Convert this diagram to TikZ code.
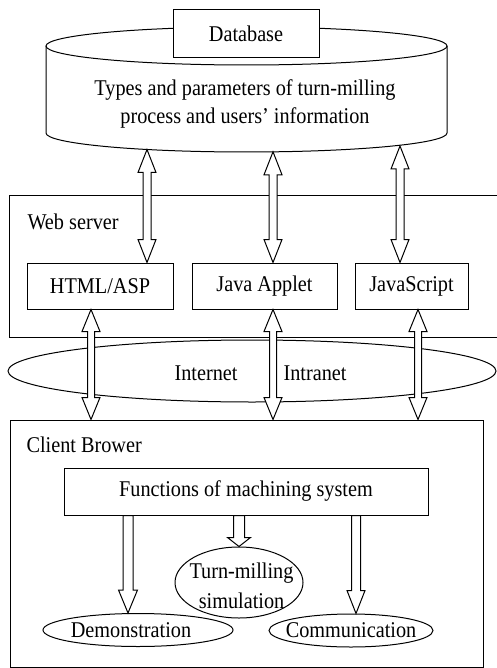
\documentclass[tikz,border=0pt]{standalone}
\usepackage{fontspec}
\setmainfont{Liberation Serif}[FakeStretch=0.9]
\usetikzlibrary{calc,shapes.geometric}

% hollow double-headed vertical arrow: #1 upper tip, #2 lower tip,
% #3 shaft half width, #4 head half width, #5 head length
\newcommand\twoway[5]{%
  \filldraw[hollow] (#1) -- ($(#1)+(#4,#5)$) -- ($(#1)+(#3,#5)$)
    -- ($(#2)+(#3,-#5)$) -- ($(#2)+(#4,-#5)$) -- (#2)
    -- ($(#2)+(-#4,-#5)$) -- ($(#2)+(-#3,-#5)$)
    -- ($(#1)+(-#3,#5)$) -- ($(#1)+(-#4,#5)$) -- cycle;}
% hollow single-headed downward arrow: #1 tail, #2 tip
\newcommand\oneway[5]{%
  \filldraw[hollow] ($(#1)+(-#3,0)$) -- ($(#2)+(-#3,-#5)$)
    -- ($(#2)+(-#4,-#5)$) -- (#2) -- ($(#2)+(#4,-#5)$)
    -- ($(#2)+(#3,-#5)$) -- ($(#1)+(#3,0)$) -- cycle;}

\begin{document}
\begin{tikzpicture}[x=1pt,y=-1pt,line width=1pt,
  every node/.style={font=\fontsize{22.5}{29}\selectfont},
  box/.style={draw,rectangle,fill=white,inner sep=0pt},
  oval/.style={draw,ellipse,inner sep=0pt},
  hollow/.style={draw=black,fill=white,line join=miter}]
\useasboundingbox (0,0) rectangle (496,668);

% database cylinder
\draw (46,46) -- (46,133) arc[start angle=180,end angle=0,x radius=200.5,y radius=19] -- (447,46);
\draw (246.5,46) ellipse [x radius=200.5,y radius=19];
\node[box,minimum width=146,minimum height=48] (db) at (246,34) {Database};
\node[align=center,font=\fontsize{22.5}{28}\selectfont] (dbtext) at (245,103.5)
  {Types and parameters of turn-milling\\process and users' information};

% web server
\draw (497,196) -- (9,196) -- (9,337) -- (497,337);
\node[anchor=west,inner sep=0pt] (web) at (27,222) {Web server};
\node[box,minimum width=146,minimum height=46] (html) at (100,286) {HTML/ASP};
\node[box,minimum width=145,minimum height=46] (java) at (264.5,286) {Java Applet};
\node[box,minimum width=113,minimum height=46] (js) at (411.5,286) {JavaScript};

% network
\node[oval,minimum width=488,minimum height=62] (net) at (252,371) {};
\node (inet) at (206,373) {Internet};
\node (intra) at (315,373) {Intranet};

% client browser
\node[box,fill=none,minimum width=473,minimum height=247] (client) at (246.5,543.5) {};
\node[anchor=west,inner sep=0pt] (cb) at (26,445) {Client Brower};
\node[box,minimum width=364,minimum height=47] (func) at (246,491.5) {Functions of machining system};
\node[oval,minimum width=128,minimum height=71] (sim) at (239,582.5) {};
\node[align=center,font=\fontsize{22.5}{30}\selectfont] (simtext) at (241.5,586) {Turn-milling\\simulation};
\node[oval,minimum width=190,minimum height=33] (dem) at (138,630) {};
\node (demtext) at (131,630) {Demonstration};
\node[oval,minimum width=164,minimum height=33] (com) at (351,630.5) {};
\node (comtext) at (351,630) {Communication};

% database <-> web server
\coordinate (u1) at (147,149.5);
\coordinate (u2) at (273,151.8);
\coordinate (u3) at (400,146);
\twoway{u1}{html.north -| u1}{4}{9}{23}
\twoway{u2}{java.north -| u2}{4}{9}{23}
\twoway{u3}{js.north -| u3}{4}{9}{23}

% web server <-> client
\coordinate (l1) at ($(html.south)+(-9,0)$);
\coordinate (l2) at ($(java.south)+(8.5,0)$);
\coordinate (l3) at ($(js.south)+(6.5,0)$);
\twoway{l1}{client.north -| l1}{3.5}{9}{22}
\twoway{l2}{client.north -| l2}{3.5}{9}{22}
\twoway{l3}{client.north -| l3}{3.5}{9}{22}

% functions -> items
\coordinate (fa) at ($(dem.north)+(-10,0)$);
\coordinate (fb) at (sim.north);
\coordinate (fc) at ($(com.north)+(5,0)$);
\oneway{func.south -| fa}{fa}{5}{9.5}{23}
\oneway{func.south -| fb}{fb}{5.5}{11.5}{9}
\oneway{func.south -| fc}{fc}{4.5}{9}{23}
\end{tikzpicture}
\end{document}
